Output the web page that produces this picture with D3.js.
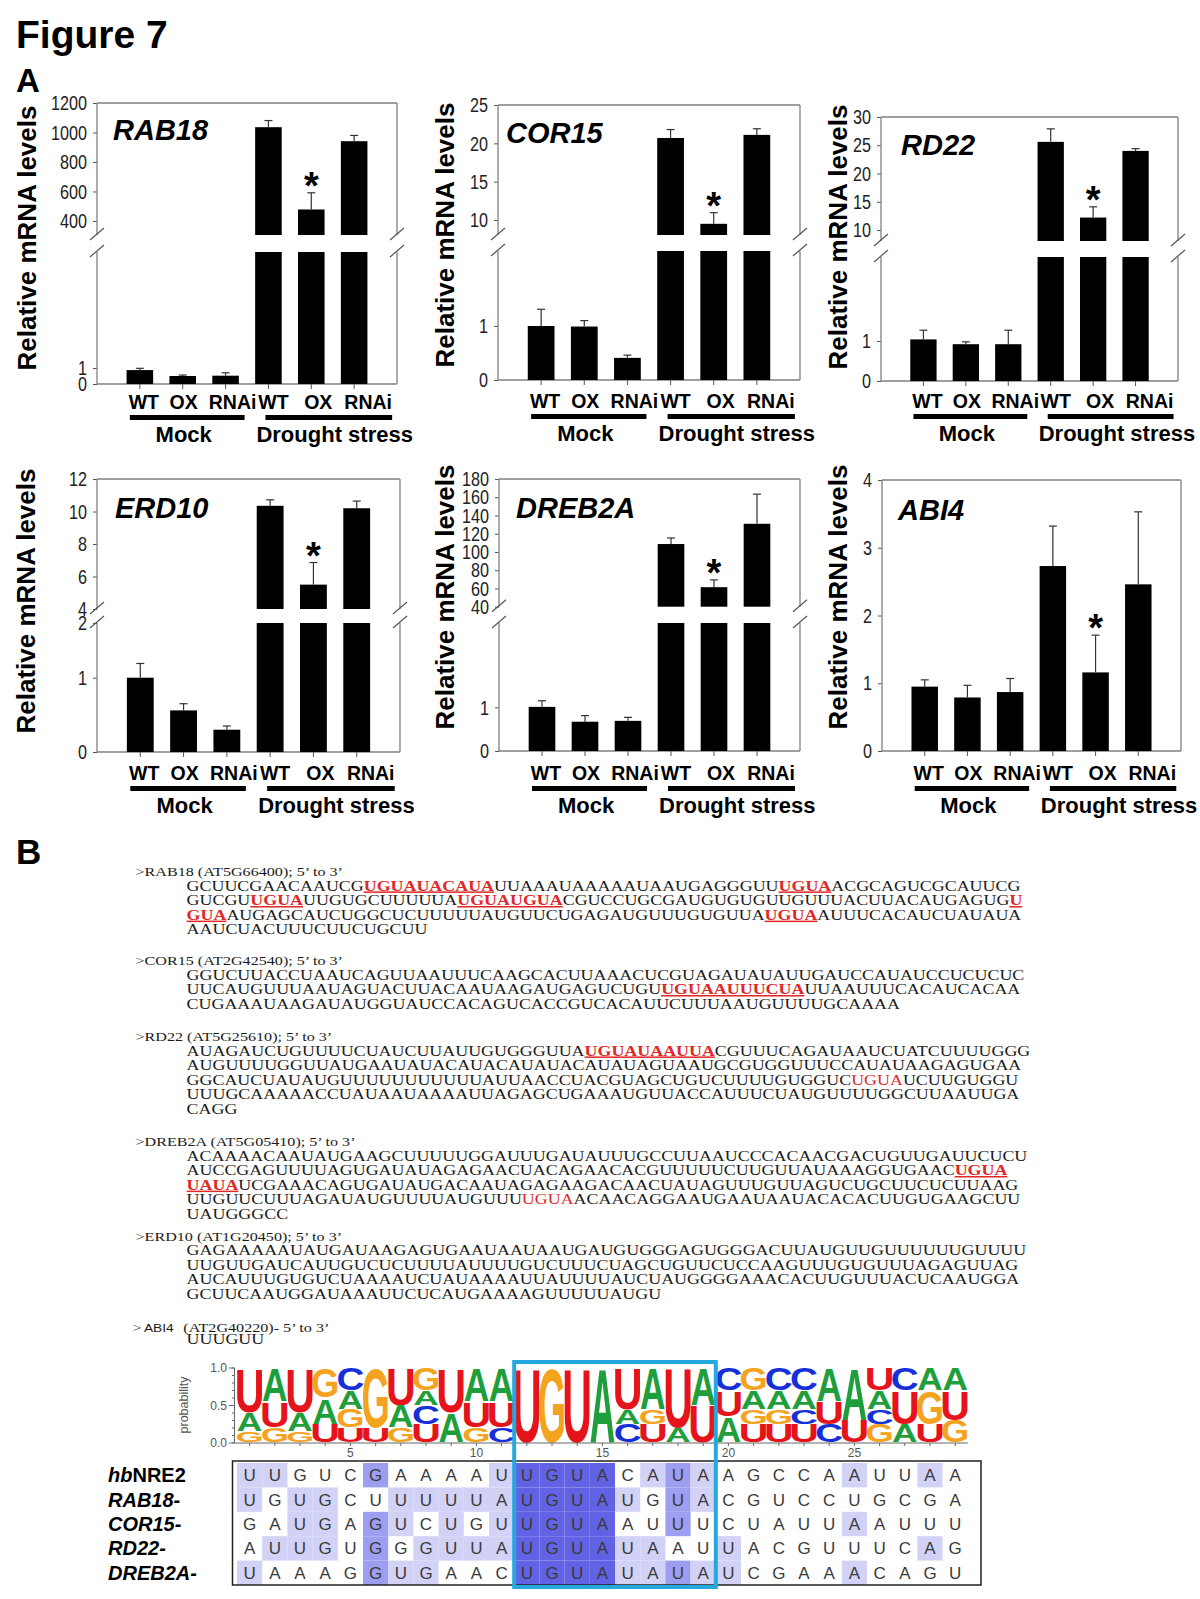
<!DOCTYPE html>
<html><head><meta charset="utf-8">
<script src="https://cdn.jsdelivr.net/npm/d3@7"></script>
<style>body{margin:0;background:#fff}svg{display:block}</style>
</head><body>
<svg id="fig" width="1200" height="1599"></svg>
<script>
// ---------------- DATA ----------------
const categories = ["WT","OX","RNAi","WT","OX","RNAi"];
const treatments = ["Mock","Drought stress"];
const geneNames = ["RAB18","COR15","RD22","ERD10","DREB2A","ABI4"];

const rab18Mean = [0.87,0.50,0.52,1036,478,941];
const rab18SE   = [0.11,0.06,0.18,45,113,39];
const cor15Mean = [1.00,0.99,0.41,20.7,9.5,21.1];
const cor15SE   = [0.31,0.11,0.05,1.1,1.45,0.8];
const rd22Mean  = [1.04,0.92,0.92,25.6,12.2,24.0];
const rd22SE    = [0.23,0.06,0.35,2.3,1.9,0.4];
const erd10Mean = [1.00,0.56,0.30,10.35,5.5,10.2];
const erd10SE   = [0.26,0.09,0.05,0.37,1.36,0.44];
const dreb2aMean= [1.01,0.67,0.69,108.7,61.4,130.9];
const dreb2aSE  = [0.14,0.14,0.08,6.6,8.0,32.5];
const abi4Mean  = [0.95,0.79,0.87,2.73,1.16,2.46];
const abi4SE    = [0.10,0.18,0.20,0.59,0.55,1.07];

const rab18UpTicks = [400,600,800,1000,1200], rab18LowTicks = [0,1];
const cor15UpTicks = [10,15,20,25],           cor15LowTicks = [0,1];
const rd22UpTicks  = [10,15,20,25,30],        rd22LowTicks  = [0,1];
const erd10UpTicks = [4,6,8,10,12],           erd10LowTicks = [0,1,2];
const dreb2aUpTicks= [40,60,80,100,120,140,160,180], dreb2aLowTicks = [0,1];
const abi4Ticks    = [0,1,2,3,4];
const significant  = [4,4,4,4,4,4];   // index of the bar marked with *

const seqHeaders = [">RAB18 (AT5G66400); 5\u2019 to 3\u2019", ">COR15 (AT2G42540); 5\u2019 to 3\u2019",
  ">RD22 (AT5G25610); 5\u2019 to 3\u2019", ">DREB2A (AT5G05410); 5\u2019 to 3\u2019",
  ">ERD10 (AT1G20450); 5\u2019 to 3\u2019", "ABI4"];
const rab18Seq = [
 "GCUUCGAACAAUCG[UGUAUACAUA]UUAAAUAAAAAUAAUGAGGGUU[UGUA]ACGCAGUCGCAUUCG",
 "GUCGU[UGUA]UUGUGCUUUUUA[UGUAUGUA]CGUCCUGCGAUGUGUGUUGUUUACUUACAUGAGUG[U]",
 "[GUA]AUGAGCAUCUGGCUCUUUUUAUGUUCUGAGAUGUUUGUGUUA[UGUA]AUUUCACAUCUAUAUA",
 "AAUCUACUUUCUUCUGCUU"];
const cor15Seq = [
 "GGUCUUACCUAAUCAGUUAAUUUCAAGCACUUAAACUCGUAGAUAUAUUGAUCCAUAUCCUCUCUC",
 "UUCAUGUUUAAUAGUACUUACAAUAAGAUGAGUCUGU[UGUAAUUUCUA]UUAAUUUCACAUCACAA",
 "CUGAAAUAAGAUAUGGUAUCCACAGUCACCGUCACAUUCUUUAAUGUUUUGCAAAA"];
const rd22Seq = [
 "AUAGAUCUGUUUUCUAUCUUAUUGUGGGUUA[UGUAUAAUUA]CGUUUCAGAUAAUCUATCUUUUGGG",
 "AUGUUUUGGUUAUGAAUAUACAUACAUAUACAUAUAGUAAUGCGUGGUUUCCAUAUAAGAGUGAA",
 "GGCAUCUAUAUGUUUUUUUUUUUAUUAACCUACGUAGCUGUCUUUUGUGGUC{UGUA}UCUUGUGGU",
 "UUUGCAAAAACCUAUAAUAAAAUUAGAGCUGAAAUGUUACCAUUUCUAUGUUUUGGCUUAAUUGA",
 "CAGG"];
const dreb2aSeq = [
 "ACAAAACAAUAUGAAGCUUUUUGGAUUUGAUAUUUGCCUUAAUCCCACAACGACUGUUGAUUCUCU",
 "AUCCGAGUUUUAGUGAUAUAGAGAACUACAGAACACGUUUUUCUUGUUAUAAAGGUGAAC[UGUA]",
 "[UAUA]UCGAAACAGUGAUAUGACAAUAGAGAAGACAACUAUAGUUUGUUAGUCUGCUUCUCUUAAG",
 "UUGUUCUUUAGAUAUGUUUUAUGUUU{UGUA}ACAACAGGAAUGAAUAAUACACACUUGUGAAGCUU",
 "UAUGGGCC"];
const erd10Seq = [
 "GAGAAAAAUAUGAUAAGAGUGAAUAAUAAUGAUGUGGGAGUGGGACUUAUGUUGUUUUUUGUUUU",
 "UUGUUGAUCAUUGUCUCUUUUAUUUUGUCUUUCUAGCUGUUCUCCAAGUUUGUGUUUAGAGUUAG",
 "AUCAUUUGUGUCUAAAAUCUAUAAAAUUAUUUUAUCUAUGGGGAAACACUUGUUUACUCAAUGGA",
 "GCUUCAAUGGAUAAAUUCUCAUGAAAAGUUUUUAUGU"];
const abi4Seq = ["UUUGUU"];

// sequence logo: stacks read top -> bottom [letter, probability]
const logoStacks = [
 [["U",.60],["A",.25],["G",.15]], [["A",.45],["U",.35],["G",.20]], [["U",.60],["A",.25],["G",.15]],
 [["G",.40],["A",.35],["U",.25]], [["C",.30],["A",.25],["G",.25],["U",.20]], [["G",.80],["U",.20]],
 [["U",.50],["A",.30],["G",.20]], [["G",.30],["A",.20],["C",.25],["U",.25]], [["U",.60],["A",.40]],
 [["A",.45],["U",.35],["G",.20]], [["A",.45],["U",.35],["C",.20]], [["U",1]], [["G",1]], [["U",1]], [["A",1]],
 [["U",.55],["A",.20],["C",.25]], [["A",.55],["G",.20],["U",.25]], [["U",.80],["A",.20]], [["A",.50],["U",.50]],
 [["C",.30],["U",.35],["A",.35]], [["G",.30],["A",.25],["G",.20],["U",.25]], [["C",.30],["A",.25],["G",.20],["U",.25]],
 [["C",.30],["A",.25],["C",.20],["U",.25]], [["A",.45],["U",.30],["C",.25]], [["A",.70],["U",.30]],
 [["U",.30],["A",.25],["C",.20],["G",.25]], [["C",.30],["U",.45],["A",.25]], [["A",.30],["G",.45],["U",.25]],
 [["A",.30],["U",.40],["G",.30]]];
const logoTickLabels = [5,10,15,20,25];
const logoYTicks = [0,0.5,1];

const alignNames = ["hbNRE2","RAB18-","COR15-","RD22-","DREB2A-"];
const alignSeqs = [
 "UUGUCGAAAAUUGUACAUAAGCCAAUUAA",
 "UGUGCUUUUUAUGUAUGUACGUCCUGCGA",
 "GAUGAGUCUGUUGUAAUUUCUAUUAAUUU",
 "AUUGUGGGUUAUGUAUAAUUACGUUUCAG",
 "UAAAGGUGAACUGUAUAUAUCGAAACAGU"];
const alignShade = [
 "11000200001333301210000010010",
 "10110011111333310210000000000",
 "00110210101333300200000010000",
 "01110201111333311001000000010",
 "10000211000333311211000010000"];
const motifStart = 12, motifEnd = 19;

// ---------------- DRAWING ----------------
const SANS = "'Liberation Sans', Arial, Helvetica, sans-serif";
const SERIF = "'Liberation Serif', 'Times New Roman', Times, serif";
const svg = d3.select("#fig");

svg.append("text").attr("x",16).attr("y",48).attr("font-family",SANS).attr("font-weight","bold")
  .attr("font-size",39).text("Figure 7");
svg.append("text").attr("x",16).attr("y",92).attr("font-family",SANS).attr("font-weight","bold")
  .attr("font-size",33).text("A");
svg.append("text").attr("x",16).attr("y",864).attr("font-family",SANS).attr("font-weight","bold")
  .attr("font-size",35).text("B");

const charts = [
 {name:geneNames[0], mean:rab18Mean, se:rab18SE, up:rab18UpTicks, low:rab18LowTicks, uMin:305, uMax:1200,
  L:{x0:97,x1:397,yTop:103,yBot:384,yBU:235,yBL:252,lowPx:[384,368],labelX:27,labelY:238,gx:113,gy:140,catY:409}},
 {name:geneNames[1], mean:cor15Mean, se:cor15SE, up:cor15UpTicks, low:cor15LowTicks, uMin:8.04, uMax:25,
  L:{x0:498,x1:800,yTop:105,yBot:380,yBU:235,yBL:251,lowPx:[380,326],labelX:445,labelY:235,gx:506,gy:143,catY:408}},
 {name:geneNames[2], mean:rd22Mean, se:rd22SE, up:rd22UpTicks, low:rd22LowTicks, uMin:8.05, uMax:30,
  L:{x0:881,x1:1178,yTop:117,yBot:381,yBU:241,yBL:257,lowPx:[381,341],labelX:838,labelY:237,gx:901,gy:155,catY:408}},
 {name:geneNames[3], mean:erd10Mean, se:erd10SE, up:erd10UpTicks, low:erd10LowTicks, uMin:4, uMax:12,
  L:{x0:97,x1:400,yTop:479,yBot:752,yBU:609,yBL:623,lowPx:[752,677.7,623],labelX:26,labelY:601,gx:115,gy:518,catY:780}},
 {name:geneNames[4], mean:dreb2aMean, se:dreb2aSE, up:dreb2aUpTicks, low:dreb2aLowTicks, uMin:40, uMax:180,
  L:{x0:499,x1:800,yTop:479,yBot:751,yBU:606.7,yBL:623,lowPx:[751,707.3],labelX:445,labelY:597,gx:516,gy:518,catY:780}},
 {name:geneNames[5], mean:abi4Mean, se:abi4SE, ticks:abi4Ticks, domain:[0,4],
  L:{x0:882,x1:1181,yTop:480,yBot:751,labelX:838,labelY:597,gx:898,gy:520,catY:780}}
];
const catDx = [4,1,7,5,7,14];
const frameCol = "#808080";

function addAxis(g, scale, ticks, x0){
  const a = g.append("g").attr("transform",`translate(${x0},0)`)
    .call(d3.axisLeft(scale).tickValues(ticks).tickFormat(d3.format("d")).tickSize(4).tickPadding(9));
  a.select(".domain").remove();
  a.attr("font-family",SANS).attr("font-size",21);
  a.selectAll("line").attr("stroke","#555");
  a.selectAll("text").attr("fill","#222").attr("transform","scale(0.77,1)");
}
function vline(g,x,y1,y2){ g.append("line").attr("x1",x).attr("x2",x).attr("y1",y1).attr("y2",y2).attr("stroke",frameCol).attr("stroke-width",1.3); }
function breakMark(g,x,y){ g.append("line").attr("x1",x-7).attr("y1",y+6).attr("x2",x+7).attr("y2",y-6).attr("stroke","#555").attr("stroke-width",1.2); }

charts.forEach((c,ci)=>{
  const L = c.L, g = svg.append("g");
  const x = d3.scalePoint().domain(d3.range(categories.length)).range([L.x0,L.x1]).padding(1);
  const bw = x.step()*0.62;
  g.append("line").attr("x1",L.x0).attr("x2",L.x1).attr("y1",L.yTop).attr("y2",L.yTop).attr("stroke",frameCol).attr("stroke-width",1.3);
  g.append("line").attr("x1",L.x0).attr("x2",L.x1).attr("y1",L.yBot).attr("y2",L.yBot).attr("stroke",frameCol).attr("stroke-width",1.3);
  let valY;
  if (c.domain){
    const y = d3.scaleLinear().domain(c.domain).range([L.yBot,L.yTop]);
    addAxis(g,y,c.ticks,L.x0);
    vline(g,L.x0,L.yTop,L.yBot); vline(g,L.x1,L.yTop,L.yBot);
    c.mean.forEach((v,i)=>{
      g.append("rect").attr("x",x(i)-bw/2).attr("width",bw).attr("y",y(v)).attr("height",L.yBot-y(v)).attr("fill","#000");
    });
    valY = v=>y(v);
  } else {
    const yU = d3.scaleLinear().domain([c.uMin,c.uMax]).range([L.yBU,L.yTop]);
    const yL = d3.scaleLinear().domain(c.low).range(L.lowPx);
    addAxis(g,yU,c.up,L.x0); addAxis(g,yL,c.low,L.x0);
    [L.x0,L.x1].forEach(xx=>{ vline(g,xx,L.yTop,L.yBU); vline(g,xx,L.yBL,L.yBot); breakMark(g,xx,L.yBU-1); breakMark(g,xx,L.yBL-1); });
    c.mean.forEach((v,i)=>{
      if (v > c.uMin){
        g.append("rect").attr("x",x(i)-bw/2).attr("width",bw).attr("y",yU(v)).attr("height",L.yBU-yU(v)).attr("fill","#000");
        g.append("rect").attr("x",x(i)-bw/2).attr("width",bw).attr("y",L.yBL).attr("height",L.yBot-L.yBL).attr("fill","#000");
      } else {
        g.append("rect").attr("x",x(i)-bw/2).attr("width",bw).attr("y",yL(v)).attr("height",L.yBot-yL(v)).attr("fill","#000");
      }
    });
    valY = v=> v > c.uMin ? yU(v) : yL(v);
  }
  c.mean.forEach((v,i)=>{
    const y1 = valY(v), y2 = valY(v+c.se[i]);
    g.append("line").attr("x1",x(i)).attr("x2",x(i)).attr("y1",y1).attr("y2",y2).attr("stroke","#333").attr("stroke-width",1.2);
    g.append("line").attr("x1",x(i)-4).attr("x2",x(i)+4).attr("y1",y2).attr("y2",y2).attr("stroke","#333").attr("stroke-width",1.2);
    g.append("line").attr("x1",x(i)).attr("x2",x(i)).attr("y1",L.yBot).attr("y2",L.yBot+5).attr("stroke","#555");
  });
  const si = significant[ci];
  g.append("text").attr("x",x(si)).attr("y",valY(c.mean[si]+c.se[si])+6).attr("text-anchor","middle")
    .attr("font-family",SANS).attr("font-weight","bold").attr("font-size",38).text("*");
  g.append("text").attr("x",L.gx).attr("y",L.gy).attr("font-family",SANS).attr("font-weight","bold")
    .attr("font-style","italic").attr("font-size",29).text(c.name);
  g.append("text").attr("transform",`translate(${L.labelX},${L.labelY}) rotate(-90)`).attr("text-anchor","middle")
    .attr("dy","0.36em").attr("font-family",SANS).attr("font-weight","bold").attr("font-size",26).text("Relative mRNA levels");
  categories.forEach((cat,i)=>{
    g.append("text").attr("x",x(i)+catDx[i]).attr("y",L.catY).attr("text-anchor","middle").attr("font-family",SANS)
      .attr("font-weight","bold").attr("font-size",19.5).text(cat);
  });
  g.append("rect").attr("x",x(0)-10).attr("width",x(2)+19-(x(0)-10)).attr("y",L.catY+6).attr("height",5).attr("fill","#000");
  g.append("rect").attr("x",x(3)-3).attr("width",x(5)+38-(x(3)-3)).attr("y",L.catY+6).attr("height",5).attr("fill","#000");
  g.append("text").attr("x",(x(0)+x(2))/2+1).attr("y",L.catY+33).attr("text-anchor","middle").attr("font-family",SANS)
    .attr("font-weight","bold").attr("font-size",22).text(treatments[0]);
  g.append("text").attr("x",x(3)-12).attr("y",L.catY+33).attr("font-family",SANS)
    .attr("font-weight","bold").attr("font-size",22).text(treatments[1]);
});

// ---------------- Panel B: sequences ----------------
function parseSeg(s){
  const out=[], re=/\[([^\]]*)\]|\{([^}]*)\}|([^\[\{]+)/g; let m;
  while((m=re.exec(s))){
    if(m[1]!==undefined) out.push({t:m[1],k:"u"});
    else if(m[2]!==undefined) out.push({t:m[2],k:"r"});
    else out.push({t:m[3],k:"n"});
  }
  return out;
}
const RED = "#e02828";
const seqX = 186.6, headX = 135.5;
const blocks = [
  {h:seqHeaders[0], lines:rab18Seq, y:876},
  {h:seqHeaders[1], lines:cor15Seq, y:965},
  {h:seqHeaders[2], lines:rd22Seq, y:1041},
  {h:seqHeaders[3], lines:dreb2aSeq, y:1146},
  {h:seqHeaders[4], lines:erd10Seq, y:1240.5},
  {h:seqHeaders[5], lines:abi4Seq, y:1331.5, gap:12.5}
];
function seqText(str, xx, yy, sx){
  const t = svg.append("text").attr("font-family",SERIF).attr("font-size",15).attr("fill","#1a1a1a")
    .attr("transform",`translate(${xx},${yy}) scale(${sx},1)`);
  parseSeg(str).forEach(s=>{
    const ts = t.append("tspan").text(s.t);
    if(s.k==="u") ts.attr("fill",RED).attr("font-weight","bold").style("text-decoration","underline");
    if(s.k==="r") ts.attr("fill",RED);
  });
  return t;
}
const probe = seqText(rab18Seq[0],0,-100,1);
const sx = 834 / probe.node().getComputedTextLength();
probe.remove();
blocks.forEach((b,bi)=>{
  if (bi < 5){
    svg.append("text").attr("font-family",SERIF).attr("font-size",13.5).attr("fill","#1a1a1a")
      .attr("transform",`translate(${headX},${b.y}) scale(${sx},1)`).text(b.h);
  } else {
    const t = svg.append("text").attr("font-family",SERIF).attr("font-size",13.5).attr("fill","#1a1a1a")
      .attr("transform",`translate(${headX-3},${b.y}) scale(${sx},1)`);
    t.append("tspan").text(">");
    t.append("tspan").attr("font-family",SANS).attr("font-size",11.5).attr("dx",2).text(b.h);
    t.append("tspan").attr("dx",8).text("(AT2G40220)- 5\u2019 to 3\u2019");
  }
  const gap = b.gap || 14.6;
  b.lines.forEach((ln,li)=> seqText(ln, seqX, b.y+14.5+li*gap - (b.gap?2:0), sx));
});

// ---------------- Sequence logo ----------------
const nCol = alignSeqs[0].length;
const lx = d3.scaleLinear().domain([0,nCol]).range([237,237+nCol*25.2]);
const cw = lx(1)-lx(0);
const ly = d3.scaleLinear().domain([0,1]).range([1443,1368]);
const letterCol = {U:"#e5141b", A:"#1f9e3c", C:"#1530d8", G:"#f4a31f"};
const inkW = {A:0.70,C:0.64,G:0.68,U:0.60};
logoStacks.forEach((stack,i)=>{
  let cum = 1;
  stack.forEach(([ch,p])=>{
    const yT = ly(cum), yB = ly(cum-p); cum -= p;
    const h = yB - yT;
    svg.append("text").text(ch).attr("font-family",SANS).attr("font-weight","bold").attr("font-size",100)
      .attr("text-anchor","middle").attr("fill",letterCol[ch])
      .attr("transform",`translate(${lx(i)+cw/2},${yB-0.6}) scale(${(cw-0.5)/(inkW[ch]*100)},${(h-0.5)/72})`);
  });
});
const la = svg.append("g").attr("stroke","#666").attr("fill","none");
la.append("line").attr("x1",234.5).attr("x2",234.5).attr("y1",ly(1)).attr("y2",ly(0));
la.append("line").attr("x1",234.5).attr("x2",lx(nCol)).attr("y1",ly(0)).attr("y2",ly(0));
d3.range(0,1.001,0.1).forEach(v=> la.append("line").attr("x1",232).attr("x2",234.5).attr("y1",ly(v)).attr("y2",ly(v)));
logoYTicks.forEach(v=>{
  la.append("line").attr("x1",229).attr("x2",234.5).attr("y1",ly(v)).attr("y2",ly(v));
  svg.append("text").attr("x",227).attr("y",ly(v)+4).attr("text-anchor","end").attr("font-family",SANS)
    .attr("font-size",12).attr("fill","#555").text(v.toFixed(1));
});
d3.range(nCol).forEach(i=> la.append("line").attr("x1",lx(i)+cw/2).attr("x2",lx(i)+cw/2).attr("y1",ly(0)).attr("y2",ly(0)+3));
logoTickLabels.forEach(v=> svg.append("text").attr("x",lx(v-1)+cw/2).attr("y",1457).attr("text-anchor","middle")
  .attr("font-family",SANS).attr("font-size",12).attr("fill","#555").text(v));
svg.append("text").attr("transform","translate(184,1405) rotate(-90)").attr("text-anchor","middle").attr("dy","0.35em")
  .attr("font-family",SANS).attr("font-size",12.5).attr("fill","#555").text("probability");

// ---------------- Alignment ----------------
const shadeCol = ["none","#d2d2f7","#9e9ef0","#6262e4"];
const rowTop = 1463, rowH = 24.4;
alignSeqs.forEach((s,r)=>{
  s.split("").forEach((ch,i)=>{
    const lev = +alignShade[r][i];
    if (lev>0) svg.append("rect").attr("x",lx(i)).attr("y",rowTop+r*rowH).attr("width",cw).attr("height",rowH).attr("fill",shadeCol[lev]);
    svg.append("text").attr("x",lx(i)+cw/2).attr("y",rowTop+r*rowH+rowH/2+6).attr("text-anchor","middle")
      .attr("font-family",SANS).attr("font-size",17).attr("fill","#3a3a3a").text(ch);
  });
  const t = svg.append("text").attr("x",108).attr("y",rowTop+r*rowH+rowH/2+7).attr("font-family",SANS)
    .attr("font-weight","bold").attr("font-size",20);
  if (r===0){ t.append("tspan").attr("font-style","italic").text(alignNames[0].slice(0,2)); t.append("tspan").text(alignNames[0].slice(2)); }
  else t.attr("font-style","italic").text(alignNames[r]);
});
svg.append("rect").attr("x",232.5).attr("y",1461).attr("width",981-232.5).attr("height",1585-1461)
  .attr("fill","none").attr("stroke","#222").attr("stroke-width",1.5);
svg.append("rect").attr("x",lx(motifStart-1)).attr("y",1362).attr("width",lx(motifEnd)-lx(motifStart-1)).attr("height",1587-1362)
  .attr("fill","none").attr("stroke","#25a8de").attr("stroke-width",4);
</script>
</body></html>
